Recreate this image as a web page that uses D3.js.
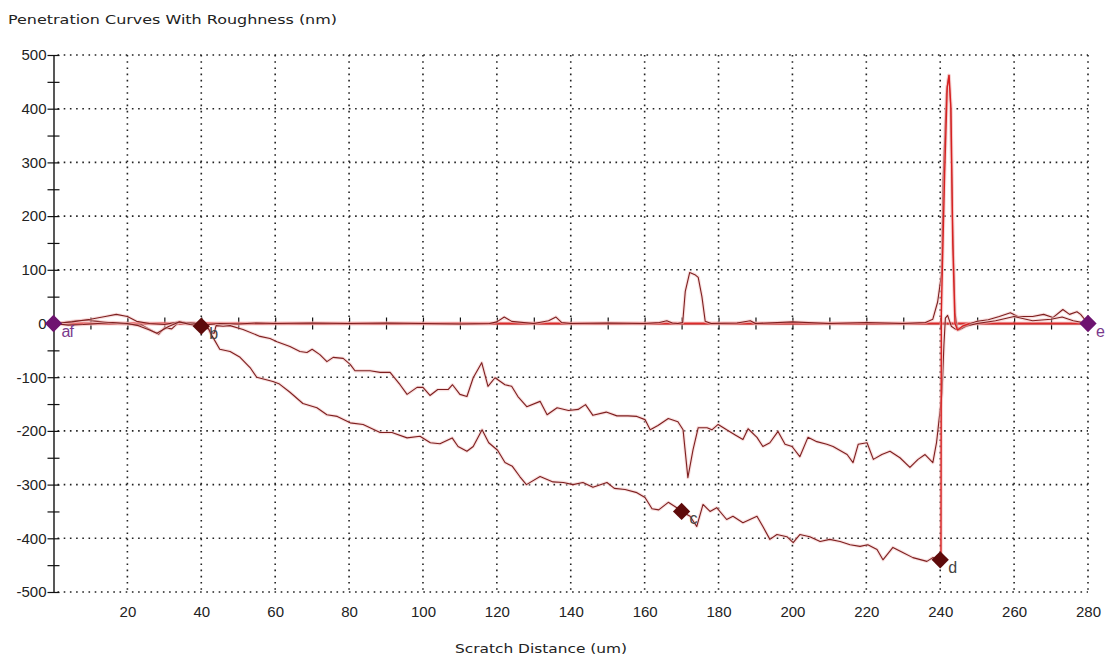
<!DOCTYPE html>
<html>
<head>
<meta charset="utf-8">
<script src="https://cdn.jsdelivr.net/npm/d3@7/dist/d3.min.js"></script>
<style>
  html, body { margin: 0; padding: 0; background: #fff; }
  svg { display: block; font-family: "Liberation Sans", Arial, sans-serif; }
</style>
</head>
<body>
<svg id="chart" width="1105" height="659"></svg>
<script>
// Scratch distance (um) and depth (nm) for each scan
const preScanX = [0, 3, 6, 9, 12, 15, 18, 21, 24, 27, 28.5, 30, 32, 34, 36, 38, 40, 45, 50, 55, 60, 70, 80, 90, 100, 110, 118, 120, 122, 124, 130, 134, 136, 137.5, 140, 150, 160, 164, 166, 167.5, 169, 170.3, 171, 172.2, 173.6, 174.5, 175.5, 176.4, 178, 185, 188.6, 190, 200, 210, 220, 230, 236, 238, 239.3, 240.4, 240.8, 241.7, 242.3, 242.8, 243.3, 244, 244.6, 245.5, 247, 250, 253, 256, 259, 261, 265, 268, 270.5, 273.2, 275, 277, 278, 280];
const preScanDepth = [0, 2, 5, 6, 4, 2, 0, -2, -3, -15, -20, -8, -10, 3, 0, 2, -3, 0, -1, 1, 0, 1, 0, 1, 0, -1, 0, 3, 12, 4, 0, 5, 12, 2, 0, 1, 0, 2, 5, 1, 0, 2, 60, 95, 91, 86, 50, 4, 0, 1, 5, 0, 3, 0, 2, 0, 2, 8, 40, 95, 270, 430, 462, 410, 200, 20, -8, -10, -3, 4, 7, 13, 20, 13, 13, 17, 11, 26, 17, 22, 17, 0];

const scanX = [0, 4, 8, 12, 16, 20, 23, 26, 28, 31, 34, 37, 40, 41, 42, 43, 45, 47.8, 50.5, 53.2, 55, 59.4, 61, 64, 67.5, 71.3, 74, 76.8, 80.3, 83.8, 88.4, 91.6, 95.7, 99.2, 102, 104.6, 107.9, 109.5, 111.9, 113.6, 116, 117.8, 120.2, 122.2, 124.2, 126.2, 128, 131.7, 135.2, 138, 140.6, 143.3, 146, 149.8, 151.8, 154.7, 157.9, 160.1, 162, 163.8, 166.4, 168.7, 170, 172.3, 174.1, 175.8, 177.7, 179.5, 182.2, 183.9, 186.6, 190.4, 192, 193.9, 195.8, 198.5, 200.2, 202, 204.7, 207.5, 210.1, 212.9, 215.6, 218.3, 220.4, 222.9, 224.5, 227.2, 230, 232.6, 236.4, 238, 240];
const scanDepth = [0, -3, -2, 0, 2, 0, -4, -12, -18, -6, 3, -2, -5, -8, -10, -24, -48, -52, -63, -82, -100, -108, -112, -128, -149, -157, -170, -173, -185, -188, -203, -203, -213, -210, -222, -224, -213, -229, -238, -229, -198, -222, -236, -259, -266, -285, -300, -285, -295, -296, -300, -296, -305, -296, -307, -309, -315, -324, -345, -347, -333, -343, -350, -359, -378, -337, -350, -343, -365, -359, -371, -359, -378, -402, -393, -397, -408, -393, -397, -406, -402, -406, -412, -415, -412, -421, -440, -417, -427, -436, -443, -436, -440];

const residualX = [0, 5, 10, 14, 17, 20, 22.5, 26, 30, 34, 38, 40, 41.5, 42.5, 43.5, 44, 45.9, 47.8, 51.3, 55.9, 58.6, 60.5, 64, 66.7, 68.6, 70, 72.1, 74, 75.7, 78.4, 80.3, 81.6, 85.7, 88.4, 91.1, 93.8, 95.7, 98.4, 100, 101.9, 104, 106.8, 108, 110, 111.9, 113.6, 115.9, 117.6, 119.5, 122.2, 124, 125.7, 128.1, 131.7, 133.6, 136.3, 139.4, 142, 144, 146, 149.6, 152.5, 155.5, 157.9, 160.1, 161.5, 163.6, 166.4, 169, 170.4, 171.7, 173.1, 174.5, 176.9, 178.2, 179.9, 182.2, 184.4, 186.6, 188, 190.4, 192, 193.9, 196.1, 198, 199.9, 202, 204.2, 206.6, 209.3, 211, 214.8, 216.4, 217.8, 220.2, 221.9, 224.2, 226.4, 229.1, 231.8, 234, 235.9, 238, 239, 239.9, 240.5, 241, 241.4, 242, 243, 244, 245, 247, 250, 255, 260, 265, 270, 273, 276, 280];
const residualDepth = [0, 3, 8, 13, 17, 13, 4, 0, -2, 3, 0, -2, -3, -18, -18, -4, -5, -4, -11, -24, -28, -34, -43, -52, -54, -48, -58, -71, -63, -65, -76, -88, -88, -91, -91, -114, -132, -119, -119, -134, -123, -123, -114, -132, -136, -101, -73, -117, -101, -114, -117, -136, -155, -145, -170, -157, -162, -160, -151, -171, -165, -172, -172, -173, -179, -198, -190, -177, -183, -198, -287, -235, -194, -194, -198, -188, -198, -207, -216, -196, -212, -229, -222, -201, -225, -229, -248, -212, -220, -225, -229, -244, -259, -225, -222, -253, -244, -238, -250, -268, -253, -244, -259, -222, -166, -129, -40, 10, 15, -5, -10, -12, -5, 0, 5, 13, 5, 8, 12, 5, 0];

// Unloading at the end of the scratch
const unloadX = [240.2, 240.3, 240.6, 241.2, 241.9, 242.4, 242.9, 243.4, 244, 244.7, 246, 248];
const unloadDepth = [-445, 20, 110, 280, 440, 462, 400, 150, 0, -12, -5, 0];

// Zero reference line
const baselineX = [0, 280];
const baselineDepth = [0, 0];

// Event markers
const markerNames = ["a", "b", "c", "d", "e"];
const markerX = [0, 40, 170, 240, 280];
const markerDepth = [0, -5, -350, -440, 0];

const xTicks = [20, 40, 60, 80, 100, 120, 140, 160, 180, 200, 220, 240, 260, 280];
const yTicks = [500, 400, 300, 200, 100, 0, -100, -200, -300, -400, -500];

const svg = d3.select("#chart");
const x = d3.scaleLinear().domain([0, 280]).range([53.5, 1088]);
const y = d3.scaleLinear().domain([-500, 500]).range([592, 55]);

// Title
svg.append("text").attr("x", 8).attr("y", 24)
  .attr("font-size", 13).attr("font-family", "'DejaVu Sans', Verdana, sans-serif").attr("fill", "#222")
  .attr("textLength", 329).attr("lengthAdjust", "spacingAndGlyphs")
  .text("Penetration Curves With Roughness (nm)");

// Dotted grid
const grid = svg.append("g").attr("stroke", "#222").attr("stroke-width", 1.6)
  .attr("stroke-dasharray", "1.6 4.6");
yTicks.filter(v => v !== 0).forEach(v => {
  grid.append("line").attr("x1", x(0) + 4).attr("x2", x(280))
    .attr("y1", y(v)).attr("y2", y(v));
});
xTicks.forEach(v => {
  grid.append("line").attr("x1", x(v)).attr("x2", x(v))
    .attr("y1", y(500)).attr("y2", y(-500));
});

// Y axis with crossing ticks every 50
const yAxis = svg.append("g").attr("transform", `translate(${x(0)},0)`)
  .call(d3.axisLeft(y).tickValues(d3.range(-500, 501, 50)).tickSizeOuter(0).tickSizeInner(6)
    .tickFormat(d => d % 100 === 0 ? d : ""));
yAxis.select(".domain").attr("stroke", "#111").attr("stroke-width", 1.4);
yAxis.selectAll(".tick line").attr("x1", -6).attr("x2", 6).attr("stroke", "#111").attr("stroke-width", 1.2);
yAxis.selectAll(".tick text").attr("x", -7).attr("font-size", 15)
  .attr("font-family", "'Liberation Sans', Arial, sans-serif").attr("fill", "#222");

// Zero axis with crossing ticks every 10
const zAxis = svg.append("g").attr("transform", `translate(0,${y(0)})`)
  .call(d3.axisBottom(x).tickValues(d3.range(0, 281, 10)).tickSizeOuter(0).tickSizeInner(6).tickFormat(""));
zAxis.select(".domain").attr("stroke", "#111").attr("stroke-width", 1.2);
zAxis.selectAll(".tick line").attr("y1", -6).attr("y2", 6).attr("stroke", "#111").attr("stroke-width", 1.2);

// Distance labels along the bottom
const xLab = svg.append("g").attr("transform", `translate(0,${y(-500)})`)
  .call(d3.axisBottom(x).tickValues(xTicks).tickSize(0).tickPadding(14));
xLab.select(".domain").remove();
xLab.selectAll(".tick text").attr("font-size", 15)
  .attr("font-family", "'Liberation Sans', Arial, sans-serif").attr("fill", "#222");

svg.append("text").attr("x", 541).attr("y", 653).attr("text-anchor", "middle")
  .attr("font-size", 13).attr("font-family", "'DejaVu Sans', Verdana, sans-serif").attr("fill", "#222")
  .attr("textLength", 172).attr("lengthAdjust", "spacingAndGlyphs")
  .text("Scratch Distance (um)");

const line = d3.line().x(d => x(d[0])).y(d => y(d[1]));
const zipped = (xs, ys) => xs.map((v, i) => [v, ys[i]]);

function drawSeries(data, color, width, halo) {
  svg.append("path").datum(data).attr("d", line).attr("fill", "none")
    .attr("stroke", halo).attr("stroke-width", width + 2.2).attr("stroke-linejoin", "round").attr("opacity", 0.55);
  svg.append("path").datum(data).attr("d", line).attr("fill", "none")
    .attr("stroke", color).attr("stroke-width", width).attr("stroke-linejoin", "round");
}

drawSeries(zipped(baselineX, baselineDepth), "#dc2a2a", 1.8, "#f3b0b0");
drawSeries(zipped(preScanX, preScanDepth), "#7e1f1f", 1.1, "#f2c4c4");
drawSeries(zipped(residualX, residualDepth), "#7e1f1f", 1.1, "#f2c4c4");
drawSeries(zipped(scanX, scanDepth), "#7e1f1f", 1.1, "#f2c4c4");
drawSeries(zipped(unloadX, unloadDepth), "#d82020", 1.4, "#f3b8b8");

// Markers
const markerFill = ["#6e1470", "#5e0b0b", "#5e0b0b", "#5e0b0b", "#6e1470"];
const labelFill = ["#7a3a8c", "#444", "#444", "#444", "#7a3a8c"];
markerNames.forEach((name, i) => {
  const cx = x(markerX[i]), cy = y(markerDepth[i]);
  svg.append("path").attr("d", d3.symbol(d3.symbolDiamond2, 190)())
    .attr("transform", `translate(${cx},${cy})`).attr("fill", markerFill[i]);
  svg.append("text").attr("x", cx + 8).attr("y", cy + 13)
    .attr("font-size", 16).attr("fill", labelFill[i]).text(name);
});
svg.append("text").attr("x", x(0) + 16).attr("y", y(0) + 13)
  .attr("font-size", 16).attr("fill", "#7a3a8c").text("f");
</script>
</body>
</html>
